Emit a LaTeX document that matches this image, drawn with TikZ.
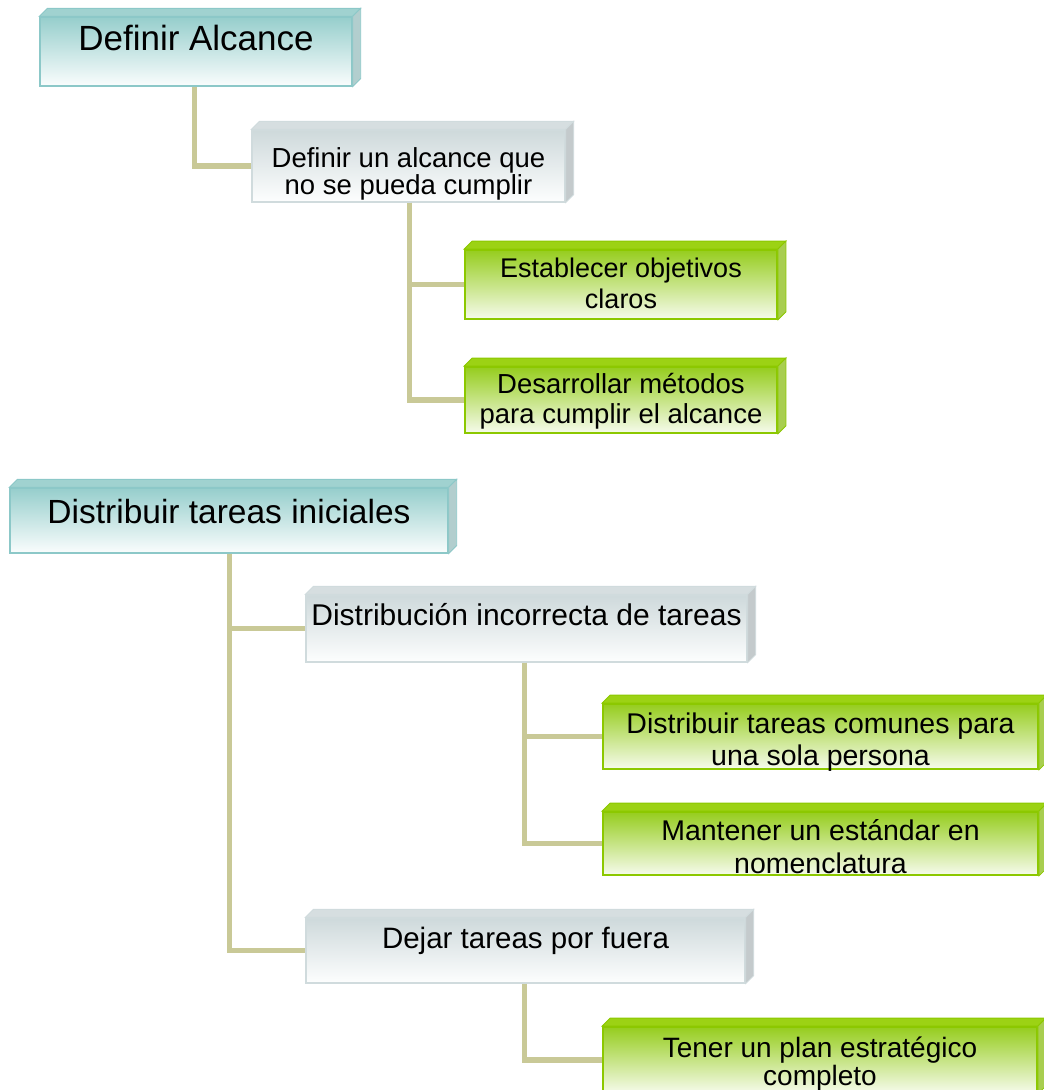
\documentclass[tikz,border=0pt]{standalone}
\usepackage{fontspec}
\setmainfont{Liberation Sans}
\definecolor{connc}{RGB}{201,201,151}
\definecolor{tealtop}{RGB}{150,206,204}
\definecolor{tealbot}{RGB}{250,253,253}
\definecolor{tealedge}{RGB}{140,200,200}
\definecolor{tealface}{RGB}{160,210,208}
\definecolor{tealside}{RGB}{178,206,206}
\definecolor{graytop}{RGB}{206,217,219}
\definecolor{graybot}{RGB}{253,254,254}
\definecolor{grayedge}{RGB}{208,219,221}
\definecolor{grayface}{RGB}{214,222,224}
\definecolor{grayside}{RGB}{196,202,204}
\definecolor{greentop}{RGB}{150,205,30}
\definecolor{greenbot}{RGB}{246,251,236}
\definecolor{greenedge}{RGB}{140,200,0}
\definecolor{greenface}{RGB}{156,210,20}
\definecolor{greenside}{RGB}{168,206,80}
\newcommand\threedfaces[4]{%
  \filldraw[fill=#2, draw=#4, line width=0.8pt]
    (#1.north west) -- ([shift={(8,-8)}]#1.north west) -- ([shift={(8,-8)}]#1.north east) -- (#1.north east) -- cycle;
  \filldraw[fill=#3, draw=#4, line width=0.8pt]
    (#1.north east) -- ([shift={(8,-8)}]#1.north east) -- ([shift={(8,-8)}]#1.south east) -- (#1.south east) -- cycle;
}
\begin{document}
\begin{tikzpicture}[x=1pt,y=-1pt,
  conn/.style={draw=connc, line width=5.5pt},
  box/.style={shape=rectangle, inner sep=0pt},
  tealbox/.style={box, draw=tealedge, line width=1.3pt, top color=tealtop, bottom color=tealbot},
  graybox/.style={box, draw=grayedge, line width=1.3pt, top color=graytop, bottom color=graybot},
  greenbox/.style={box, draw=greenedge, line width=1.8pt, top color=greentop, bottom color=greenbot},
  txt/.style={inner sep=0pt, anchor=base, font=\fontsize{#1}{#1}\selectfont}]
\useasboundingbox (0,0) rectangle (1044,1090);
\clip (0,0) rectangle (1044,1090);

% boxes (front faces)
\node[tealbox, minimum width=312, minimum height=69] (b1) at (196,51.5) {};
\node[graybox, minimum width=313, minimum height=72] (b2) at (408.5,166) {};
\node[greenbox, minimum width=312, minimum height=69] (b3) at (621,284.5) {};
\node[greenbox, minimum width=312, minimum height=66] (b4) at (621,400) {};
\node[tealbox, minimum width=438, minimum height=65] (b5) at (229,520.5) {};
\node[graybox, minimum width=441, minimum height=67] (b6) at (526.5,628.5) {};
\node[greenbox, minimum width=435, minimum height=65] (b7) at (820.5,736.5) {};
\node[greenbox, minimum width=435, minimum height=63] (b8) at (820.5,843.5) {};
\node[graybox, minimum width=439, minimum height=65] (b9) at (525.5,950.5) {};
\node[greenbox, minimum width=434, minimum height=66] (b10) at (820,1060) {};

% 3D faces
\threedfaces{b1}{tealface}{tealside}{tealedge}
\threedfaces{b2}{grayface}{grayside}{grayedge}
\threedfaces{b3}{greenface}{greenside}{greenedge}
\threedfaces{b4}{greenface}{greenside}{greenedge}
\threedfaces{b5}{tealface}{tealside}{tealedge}
\threedfaces{b6}{grayface}{grayside}{grayedge}
\threedfaces{b7}{greenface}{greenside}{greenedge}
\threedfaces{b8}{greenface}{greenside}{greenedge}
\threedfaces{b9}{grayface}{grayside}{grayedge}
\threedfaces{b10}{greenface}{greenside}{greenedge}

% connectors
\draw[conn] ([xshift=155]b1.south west) |- (b2.west);
\draw[conn] ([xshift=158]b2.south west) |- (b4.west);
\draw[conn] ([xshift=158]b2.south west) |- (b3.west);
\draw[conn] ([xshift=220]b5.south west) |- (b9.west);
\draw[conn] ([xshift=220]b5.south west) |- (b6.west);
\draw[conn] ([xshift=219]b6.south west) |- (b8.west);
\draw[conn] ([xshift=219]b6.south west) |- (b7.west);
\draw[conn] ([xshift=219]b9.south west) |- (b10.west);

% texts
\node[txt=35] (t1) at (196,50) {Definir Alcance};
\node[txt=27.5] (t2a) at (408.5,167) {Definir un alcance que};
\node[txt=27.5] (t2b) at (408.5,194) {no se pueda cumplir};
\node[txt=27] (t3a) at (621,277) {Establecer objetivos};
\node[txt=27] (t3b) at (621,308) {claros};
\node[txt=27.5] (t4a) at (621,393) {Desarrollar métodos};
\node[txt=27.5] (t4b) at (621,423) {para cumplir el alcance};
\node[txt=33.5] (t5) at (229,523) {Distribuir tareas iniciales};
\node[txt=30] (t6) at (526.5,625) {Distribución incorrecta de tareas};
\node[txt=28.5] (t7a) at (820.5,733) {Distribuir tareas comunes para};
\node[txt=28.5] (t7b) at (820.5,765) {una sola persona};
\node[txt=28.5] (t8a) at (820.5,840) {Mantener un estándar en};
\node[txt=28.5] (t8b) at (820.5,873) {nomenclatura};
\node[txt=29.5] (t9) at (525.5,948) {Dejar tareas por fuera};
\node[txt=28] (t10a) at (820,1057) {Tener un plan estratégico};
\node[txt=28] (t10b) at (820,1085) {completo};
\end{tikzpicture}
\end{document}
